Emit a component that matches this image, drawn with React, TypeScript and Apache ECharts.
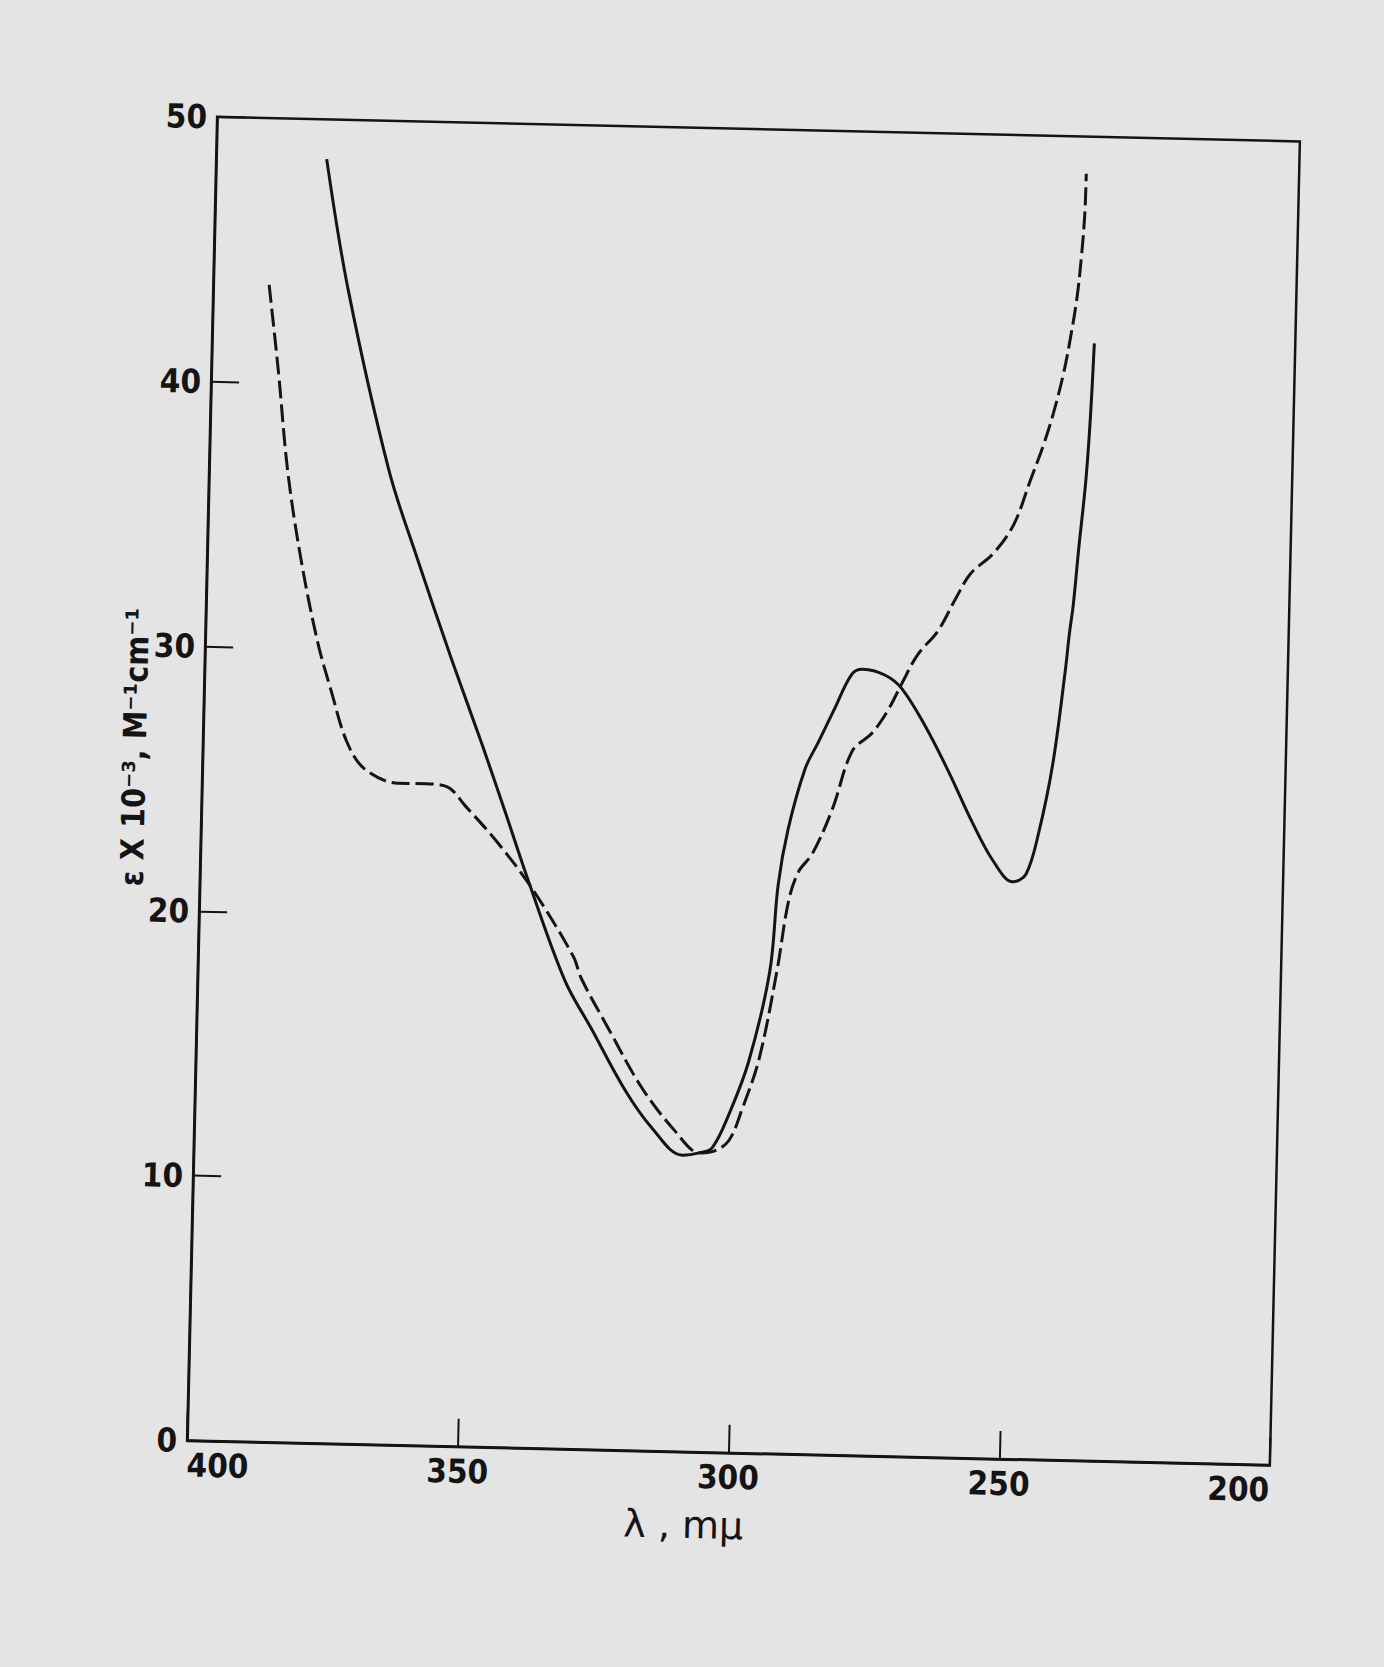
import React, { useEffect, useRef } from "react";
import * as echarts from "echarts";

// Wavelength (mμ) and molar absorptivity (ε × 10⁻³)
const solidLambda = [379.6, 375.1, 366.8, 361.2, 354.4, 348.4, 343.9, 339.3, 332.2, 327.1, 320.6, 315.5, 309.8, 306.7, 304.3, 301.3, 297.9, 294.4, 293.2, 291.6, 288.7, 286.4, 283.5, 280.5, 278.5, 274.4, 271.2, 266.7, 262.2, 257.6, 253.7, 249.9, 247.5, 245.3, 243.0, 241.1, 240.5, 239.9, 239.1, 238.1, 237.5, 237.1];
const solidEps = [48.5, 43.6, 36.8, 33.5, 29.7, 26.5, 24.0, 21.4, 17.7, 15.9, 13.6, 12.2, 11.2, 11.3, 11.5, 12.8, 14.8, 18.2, 21.5, 23.6, 25.9, 26.9, 28.2, 29.5, 29.7, 29.5, 29.0, 27.6, 25.9, 24.0, 22.6, 21.8, 22.1, 23.7, 26.3, 29.8, 31.2, 32.3, 34.5, 37.0, 39.5, 42.2];

const dashedLambda = [389.7, 387.6, 385.5, 382.7, 379.3, 376.5, 373.4, 370.0, 363.8, 358.8, 354.7, 351.3, 345.0, 338.5, 330.7, 329.2, 323.9, 317.5, 311.2, 306.6, 303.7, 301.2, 298.9, 296.0, 293.1, 291.2, 289.5, 287.0, 283.5, 280.1, 276.5, 273.6, 271.2, 268.4, 264.8, 261.5, 259.0, 254.8, 251.2, 248.3, 246.1, 244.4, 242.7, 241.6, 240.5, 239.8, 239.4, 239.3];
const dashedEps = [43.7, 40.4, 36.7, 33.4, 30.3, 28.4, 26.5, 25.5, 25.0, 25.0, 24.9, 24.2, 22.8, 21.1, 18.6, 17.8, 15.9, 13.7, 12.1, 11.3, 11.4, 11.8, 13.0, 14.9, 18.2, 20.9, 22.0, 22.7, 24.4, 26.6, 27.3, 28.2, 29.2, 30.3, 31.2, 32.5, 33.4, 34.2, 35.3, 37.0, 38.3, 39.5, 41.0, 42.3, 43.9, 45.6, 47.1, 48.6];

const xMin = 200;
const xMax = 400;
const xStep = 50;
const yMin = 0;
const yMax = 50;
const yStep = 10;

const xName = "λ , mμ";
const yName = "ε X 10⁻³, M⁻¹cm⁻¹";

const INK = "#141414";
const PAPER = "#e4e4e4";
const LABEL_FONT = "'DejaVu Sans Condensed', 'DejaVu Sans', sans-serif";

function pairs(xs: number[], ys: number[]) {
  return xs.map((x, i) => [x, ys[i]]);
}

export default function App() {
  const ref = useRef<HTMLDivElement>(null);

  useEffect(() => {
    if (!ref.current) return;
    const chart = echarts.init(ref.current, null, { renderer: "svg", width: 1384, height: 1667 });
    const option: any = {
      animation: false,
      backgroundColor: "transparent",
      grid: {
        show: true,
        left: 202,
        top: 129,
        width: 1083,
        height: 1324,
        borderColor: INK,
        borderWidth: 2.5,
        backgroundColor: "transparent",
      },
      xAxis: {
        type: "value",
        min: xMin,
        max: xMax,
        interval: xStep,
        inverse: true,
        axisLine: { show: true, lineStyle: { color: INK, width: 2.5 } },
        axisTick: { show: true, inside: true, length: 28, lineStyle: { color: INK, width: 2 } },
        splitLine: { show: false },
        axisLabel: {
          color: INK,
          fontSize: 33,
          fontWeight: "bold",
          fontFamily: LABEL_FONT,
          margin: 8,
          alignMinLabel: "right",
          alignMaxLabel: "left",
        },
      },
      yAxis: {
        type: "value",
        min: yMin,
        max: yMax,
        interval: yStep,
        axisLine: { show: true, lineStyle: { color: INK, width: 2.5 } },
        axisTick: { show: true, inside: true, length: 28, lineStyle: { color: INK, width: 2 } },
        splitLine: { show: false },
        axisLabel: {
          color: INK,
          fontSize: 33,
          fontWeight: "bold",
          fontFamily: LABEL_FONT,
          margin: 10,
        },
      },
      graphic: [
        {
          type: "text",
          x: 700,
          y: 1526,
          style: {
            text: xName,
            fill: INK,
            fontSize: 38,
            fontFamily: "'DejaVu Sans', sans-serif",
            align: "center",
            verticalAlign: "middle",
          },
        },
        {
          type: "text",
          x: 134,
          y: 761,
          rotation: Math.PI / 2,
          style: {
            text: yName,
            fill: INK,
            fontSize: 32,
            fontWeight: "bold",
            fontFamily: "'DejaVu Sans Condensed', 'DejaVu Sans', sans-serif",
            align: "center",
            verticalAlign: "middle",
          },
        },
      ],
      series: [
        {
          type: "line",
          name: "solid",
          data: pairs(solidLambda, solidEps),
          showSymbol: false,
          smooth: 0.35,
          lineStyle: { color: INK, width: 3, type: "solid" },
        },
        {
          type: "line",
          name: "dashed",
          data: pairs(dashedLambda, dashedEps),
          showSymbol: false,
          smooth: 0.35,
          lineStyle: { color: INK, width: 3, type: [18, 6] },
        },
      ],
    };
    chart.setOption(option);
    return () => chart.dispose();
  }, []);

  return (
    <div
      style={{
        position: "fixed",
        left: 0,
        top: 0,
        width: 1384,
        height: 1667,
        overflow: "hidden",
        background: PAPER,
      }}
    >
      <div
        ref={ref}
        style={{
          position: "absolute",
          left: 0,
          top: 0,
          width: 1384,
          height: 1667,
          transform: "rotate(1.3deg)",
          transformOrigin: "743.5px 790.75px",
        }}
      />
    </div>
  );
}
